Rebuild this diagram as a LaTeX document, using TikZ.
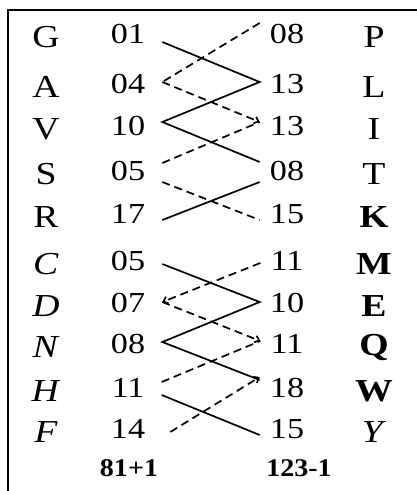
\documentclass[tikz,border=0pt]{standalone}
\usepackage{fontspec}
\setmainfont[FakeStretch=1.18]{Liberation Serif}
\newfontfamily\sumfont[FakeStretch=1.1]{Liberation Serif}
\usepackage{tikz}
\usetikzlibrary{arrows.meta, calc}

\begin{document}
\begin{tikzpicture}[
    x=1pt, y=-1pt,
    letter/.style={inner sep=0pt, font=\fontsize{32}{34}\selectfont},
    leftnum/.style={inner ysep=0pt, inner xsep=17pt, font=\fontsize{29}{31}\selectfont},
    rightnum/.style={inner ysep=0pt, inner xsep=10pt, font=\fontsize{29}{31}\selectfont},
    sumlabel/.style={inner sep=0pt, font=\sumfont\fontsize{25.5}{27}\selectfont\bfseries},
    solidline/.style={line width=1.7pt},
    dashline/.style={line width=1.7pt, dash pattern=on 8pt off 5pt},
    tip/.style={-{Straight Barb[length=4pt, width=7pt]}}
]
\useasboundingbox (0,0) rectangle (417,491);

% Frame (top and left edges only)
\draw[line width=1.3pt] (8,491) -- (8,10) -- (417,10);

% Letters on both sides
\foreach \y/\t [count=\i] in {37/G, 87/A, 129/V, 174/S, 217/R, 264/\textit{C}, 306/\textit{D}, 347/\textit{N}, 391/\textit{H}, 432/\textit{F}}
    \node[letter] (ll\i) at (46,\y) {\t};
\foreach \y/\t [count=\i] in {37/P, 87/L, 129/I, 174/T, 217/\textbf{K}, 264/\textbf{M}, 306/\textbf{E}, 347/\textbf{Q}, 391/\textbf{W}, 432/\textit{Y}}
    \node[letter] (rl\i) at (374,\y) {\t};

% Number columns
\foreach \y/\t [count=\i] in {34/01, 84/04, 126/10, 171/05, 214/17, 261/05, 303/07, 344/08, 388/11, 429/14}
    \node[leftnum] (l\i) at (128,\y) {\t};
\foreach \y/\t [count=\i] in {34/08, 84/13, 126/13, 171/08, 214/15, 261/11, 303/10, 344/11, 388/18, 429/15}
    \node[rightnum] (r\i) at (287,\y) {\t};

% Column sums
\node[sumlabel] (suml) at (129,468) {81+1};
\node[sumlabel] (sumr) at (299,468) {123-1};

% Upper block: solid connections
\draw[solidline] ($(l1.east)+(0,8)$) -- ($(r2.west)+(0,-2)$) -- ($(l3.east)+(0,-4)$) -- ($(r4.west)+(0,-9)$);
\draw[solidline] ($(l5.east)+(0,6)$) -- ($(r4.west)+(0,11)$);

% Upper block: dashed connections
\draw[dashline] ($(r1.west)+(0,-11)$) -- ($(l2.east)+(0,-2)$);
\draw[dashline, tip] ($(l2.east)+(0,-2)$) -- ($(r3.west)+(0,-4)$);
\draw[dashline] ($(l4.east)+(0,-8)$) -- ($(r3.west)+(0,-4)$);
\draw[dashline] ($(l4.east)+(0,11)$) -- ($(r5.west)+(0,6)$);

% Lower block: solid connections
\draw[solidline] ($(l6.east)+(0,3)$) -- ($(r7.west)+(0,-1)$) -- ($(l8.east)+(0,-2)$) -- ($(r9.west)+(0,-8)$);
\draw[solidline] ($(l9.east)+(0,7)$) -- ($(r10.west)+(0,6)$);

% Lower block: dashed connections
\draw[dashline, tip] ($(r6.west)+(0,2)$) -- ($(l7.east)+(0,-1)$);
\draw[dashline, tip] ($(l7.east)+(0,-1)$) -- ($(r8.west)+(0,-3)$);
\draw[dashline] ($(l9.east)+(0,-6)$) -- ($(r8.west)+(0,-3)$);
\draw[dashline, tip] ($(l10.east)+(8,3)$) -- ($(r9.west)+(0,-11)$);

\end{tikzpicture}
\end{document}
